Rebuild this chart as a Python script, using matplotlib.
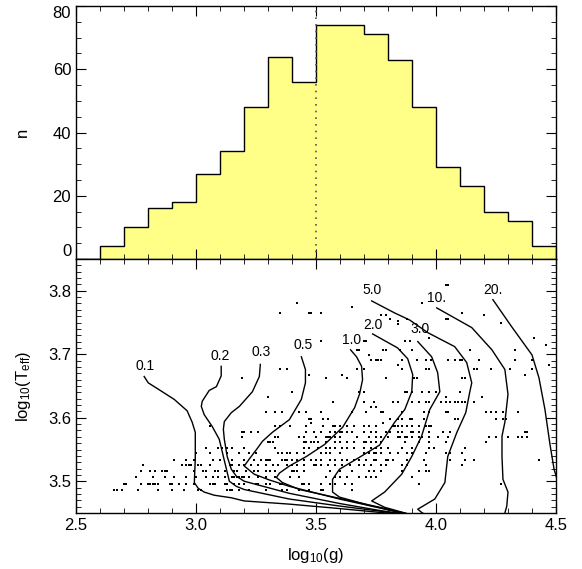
import matplotlib
matplotlib.use('Agg')
import matplotlib.pyplot as plt
import numpy as np

plt.rcParams['font.family'] = ['Liberation Sans', 'DejaVu Sans']
plt.rcParams['mathtext.default'] = 'regular'

# histogram of log g (bins of 0.1 dex)
bin_edges = [2.5, 2.6, 2.7, 2.8, 2.9, 3.0, 3.1, 3.2, 3.3, 3.4, 3.5,
             3.6, 3.7, 3.8, 3.9, 4.0, 4.1, 4.2, 4.3, 4.4, 4.5]
counts = [0, 4, 10, 16, 18, 27, 34, 48, 64, 56,
          74, 74, 71, 63, 48, 29, 23, 15, 12, 4]
median_logg = 3.5

# stars: log Teff rows and the log g values found on each row
star_logt = [3.487, 3.496, 3.506, 3.516, 3.525, 3.534, 3.544, 3.552, 3.562,
             3.570, 3.577, 3.587, 3.592, 3.598, 3.609, 3.617, 3.625, 3.633,
             3.640, 3.663, 3.668, 3.676, 3.683, 3.691, 3.699, 3.706, 3.714,
             3.721, 3.726, 3.747, 3.750, 3.752, 3.756, 3.762, 3.765, 3.774,
             3.781, 3.809]
star_logg = [
    [2.66, 2.67, 2.69, 2.76, 2.84, 2.90, 2.95, 3.01, 3.02, 3.13, 3.14, 3.15,
     3.18, 3.22, 3.29, 3.36, 3.38, 3.43, 3.47, 3.52, 3.53, 3.65],
    [2.70, 2.71, 2.77, 2.80, 2.81, 2.82, 2.83, 2.84, 2.89, 2.90, 2.93, 2.96,
     2.99, 3.06, 3.07, 3.08, 3.12, 3.13, 3.16, 3.18, 3.20, 3.25, 3.26, 3.29,
     3.31, 3.35, 3.36, 3.44, 3.45, 3.47, 3.52, 3.56, 3.58, 3.62, 3.65, 3.93,
     4.27],
    [2.75, 2.82, 2.87, 2.91, 2.96, 3.00, 3.04, 3.07, 3.09, 3.12, 3.15, 3.16,
     3.17, 3.18, 3.19, 3.20, 3.22, 3.26, 3.29, 3.33, 3.39, 3.43, 3.54, 3.58,
     3.60, 3.63, 3.68, 3.71, 3.73, 3.75, 3.90],
    [2.77, 2.81, 2.83, 2.86, 2.87, 2.88, 2.99, 3.03, 3.04, 3.08, 3.09, 3.12,
     3.16, 3.17, 3.21, 3.24, 3.26, 3.29, 3.31, 3.33, 3.40, 3.41, 3.42, 3.45,
     3.56, 3.60, 3.65, 3.72, 3.74, 3.77, 3.86, 3.93, 3.96, 3.97],
    [2.78, 2.94, 2.96, 2.97, 2.98, 3.01, 3.02, 3.06, 3.14, 3.15, 3.18, 3.20,
     3.23, 3.26, 3.29, 3.32, 3.34, 3.38, 3.40, 3.42, 3.45, 3.49, 3.50, 3.52,
     3.55, 3.58, 3.61, 3.64, 3.68, 3.70, 3.73, 3.77, 3.79, 3.86, 3.88, 3.96,
     4.11],
    [2.91, 2.96, 2.99, 3.07, 3.10, 3.15, 3.20, 3.24, 3.27, 3.29, 3.30, 3.31,
     3.36, 3.37, 3.38, 3.40, 3.42, 3.45, 3.48, 3.50, 3.52, 3.56, 3.58, 3.61,
     3.63, 3.66, 3.68, 3.71, 3.74, 3.75, 3.79, 3.80, 3.82, 3.88, 3.95, 4.06,
     4.12, 4.16, 4.43],
    [3.00, 3.06, 3.13, 3.18, 3.22, 3.25, 3.34, 3.36, 3.38, 3.39, 3.42, 3.45,
     3.52, 3.54, 3.56, 3.60, 3.70, 3.72, 3.74, 3.75, 3.77, 3.81, 3.84, 3.88,
     3.90, 3.96, 4.04, 4.06, 4.11],
    [3.04, 3.09, 3.11, 3.13, 3.15, 3.20, 3.33, 3.45, 3.47, 3.51, 3.54, 3.56,
     3.58, 3.61, 3.63, 3.66, 3.70, 3.73, 3.75, 3.77, 3.80, 3.86, 3.90, 3.97,
     3.99, 4.12],
    [3.30, 3.31, 3.32, 3.45, 3.46, 3.48, 3.49, 3.51, 3.54, 3.58, 3.60, 3.63,
     3.66, 3.70, 3.71, 3.73, 3.75, 3.77, 3.87, 3.93, 3.97, 4.04, 4.21],
    [3.19, 3.33, 3.34, 3.43, 3.45, 3.50, 3.54, 3.55, 3.56, 3.58, 3.60, 3.67,
     3.72, 3.75, 3.77, 3.80, 3.84, 3.85, 3.87, 3.88, 3.90, 3.93, 3.94, 3.97,
     4.01, 4.05, 4.22, 4.25, 4.30, 4.34, 4.36, 4.38],
    [3.19, 3.20, 3.23, 3.26, 3.46, 3.49, 3.52, 3.56, 3.58, 3.60, 3.61, 3.63,
     3.65, 3.70, 3.73, 3.75, 3.79, 3.81, 3.84, 3.86, 3.895, 3.905, 3.93, 3.97,
     4.03, 4.06, 4.37, 4.38],
    [3.06, 3.33, 3.35, 3.39, 3.46, 3.53, 3.57, 3.58, 3.60, 3.63, 3.66, 3.70,
     3.72, 3.75, 3.82, 3.83, 3.84, 3.86, 3.88, 3.90, 3.93, 3.96, 3.97, 3.98],
    [3.48, 3.78],
    [3.47, 3.48, 3.53, 3.55, 3.81, 3.84, 3.86, 3.89, 3.90, 3.95, 4.08, 4.09,
     4.25, 4.28, 4.29],
    [3.29, 3.33, 3.36, 3.43, 3.46, 3.52, 3.65, 3.71, 3.77, 3.78, 3.86, 3.95,
     3.97, 4.04, 4.05, 4.21, 4.23, 4.25, 4.28, 4.34],
    [3.73, 3.75],
    [3.57, 3.70, 3.74, 3.82, 3.84, 3.90, 3.93, 3.96, 3.97, 4.02, 4.04, 4.06,
     4.08, 4.09, 4.11, 4.12, 4.16],
    [3.30, 4.04, 4.19],
    [3.40, 3.68, 3.70, 3.87, 3.88, 3.90, 3.94, 3.97, 4.00, 4.10],
    [3.19, 3.54, 3.63, 3.79, 3.91, 3.92, 4.11, 4.12],
    [3.47, 3.61, 4.37],
    [3.35, 3.38, 3.67, 3.70, 3.86, 3.96, 3.97, 4.16, 4.17, 4.23, 4.31, 4.40],
    [3.84, 4.47],
    [3.73, 3.75, 3.76, 3.77, 3.86, 3.92, 3.96, 3.98, 4.05, 4.08, 4.10, 4.11,
     4.18, 4.33, 4.40],
    [3.72],
    [3.67, 3.68, 3.78, 3.79, 3.85, 3.90, 4.14, 4.33],
    [4.46],
    [3.52, 3.70, 3.71, 3.87, 3.89],
    [3.97, 4.41],
    [3.84],
    [4.27],
    [3.84],
    [3.81, 3.88, 4.04, 4.05],
    [3.77, 3.79, 4.20],
    [3.35, 3.47, 3.48, 3.52, 4.11],
    [3.65],
    [3.42, 3.94],
    [4.04, 4.05],
]

# isochrones (age in Gyr)
iso_names = ['0.1', '0.2', '0.3', '0.5', '1.0', '2.0', '3.0', '5.0', '10.', '20.']
iso_logg = [
    [2.784, 2.801, 2.847, 2.909, 2.963, 2.984, 2.997, 2.997, 2.993, 3.009,
     3.034, 3.076, 3.147, 3.201, 3.389, 3.598, 3.765, 3.890],
    [3.105, 3.105, 3.085, 3.055, 3.026, 3.022, 3.034, 3.068, 3.097, 3.114,
     3.130, 3.139, 3.168, 3.201, 3.389, 3.598, 3.765, 3.890],
    [3.268, 3.264, 3.235, 3.181, 3.147, 3.118, 3.114, 3.118, 3.130, 3.147,
     3.168, 3.201, 3.389, 3.598, 3.765, 3.890],
    [3.439, 3.456, 3.456, 3.439, 3.389, 3.318, 3.277, 3.252, 3.222, 3.201,
     3.243, 3.306, 3.389, 3.598, 3.765, 3.890],
    [3.644, 3.669, 3.690, 3.694, 3.682, 3.661, 3.611, 3.536, 3.460, 3.389,
     3.348, 3.335, 3.360, 3.431, 3.598, 3.765, 3.890],
    [3.736, 3.840, 3.882, 3.903, 3.899, 3.870, 3.828, 3.765, 3.669, 3.598,
     3.569, 3.569, 3.598, 3.723, 3.870, 3.932],
    [3.924, 3.982, 4.007, 4.016, 3.974, 3.940, 3.899, 3.857, 3.786, 3.732,
     3.786, 3.870, 3.932],
    [3.732, 3.828, 3.890, 3.966, 4.078, 4.128, 4.149, 4.141, 4.124, 4.087,
     4.049, 4.037, 3.995, 3.924, 3.940, 3.974],
    [4.003, 4.149, 4.233, 4.287, 4.300, 4.287, 4.275, 4.275, 4.279, 4.300,
     4.295, 4.287, 4.283],
    [4.237, 4.316, 4.400, 4.429, 4.454, 4.475, 4.492, 4.517],
]
iso_logt = [
    [3.665, 3.655, 3.644, 3.629, 3.611, 3.593, 3.577, 3.535, 3.498, 3.489,
     3.483, 3.478, 3.474, 3.469, 3.464, 3.457, 3.451, 3.447],
    [3.681, 3.666, 3.649, 3.643, 3.626, 3.618, 3.605, 3.586, 3.566, 3.539,
     3.514, 3.500, 3.492, 3.487, 3.472, 3.461, 3.453, 3.447],
    [3.684, 3.665, 3.641, 3.618, 3.608, 3.594, 3.582, 3.566, 3.539, 3.519,
     3.508, 3.500, 3.481, 3.465, 3.454, 3.447],
    [3.696, 3.676, 3.655, 3.629, 3.597, 3.577, 3.563, 3.550, 3.535, 3.524,
     3.511, 3.502, 3.492, 3.472, 3.458, 3.447],
    [3.707, 3.696, 3.681, 3.660, 3.638, 3.616, 3.585, 3.558, 3.539, 3.524,
     3.513, 3.506, 3.498, 3.487, 3.473, 3.459, 3.447],
    [3.732, 3.710, 3.693, 3.668, 3.641, 3.613, 3.593, 3.557, 3.535, 3.519,
     3.503, 3.483, 3.475, 3.462, 3.450, 3.443],
    [3.720, 3.696, 3.671, 3.641, 3.613, 3.571, 3.539, 3.511, 3.483, 3.469,
     3.459, 3.450, 3.443],
    [3.784, 3.765, 3.754, 3.734, 3.712, 3.687, 3.655, 3.641, 3.608, 3.577,
     3.539, 3.498, 3.472, 3.456, 3.451, 3.443],
    [3.773, 3.742, 3.707, 3.676, 3.637, 3.593, 3.571, 3.539, 3.503, 3.483,
     3.461, 3.450, 3.443],
    [3.786, 3.743, 3.699, 3.663, 3.613, 3.558, 3.519, 3.487],
]
iso_label_x = [2.788, 3.101, 3.272, 3.448, 3.648, 3.736, 3.932, 3.732, 4.003, 4.237]
iso_label_y = [3.682, 3.698, 3.704, 3.714, 3.723, 3.746, 3.739, 3.801, 3.789, 3.801]

fig = plt.figure(figsize=(5.82, 5.69), dpi=100)
ax1 = fig.add_axes([0.1306, 0.5448, 0.8247, 0.4446])
ax2 = fig.add_axes([0.1306, 0.0984, 0.8247, 0.4464])

# top: histogram
ax1.stairs(counts, bin_edges, fill=True, color='#ffff88')
ax1.stairs(counts, bin_edges, color='black', linewidth=1.0)
ax1.axvline(median_logg, color='#555555', linestyle=(0, (1, 3)), linewidth=1.2)
ax1.set_xlim(2.5, 4.5)
ax1.set_ylim(0, 80)
ax1.set_yticks([0, 20, 40, 60, 80])
ax1.set_yticks(np.arange(0, 81, 5), minor=True)
ax1.set_xticks([2.5, 3.0, 3.5, 4.0, 4.5])
ax1.set_xticks(np.arange(2.5, 4.51, 0.1), minor=True)
ax1.tick_params(labelbottom=False)
ax1.set_ylabel('n', fontsize=12)
ax1.yaxis.set_label_coords(-0.096, 0.5)

# bottom: stars and isochrones
for g, t in zip(star_logg, star_logt):
    ax2.scatter(g, [t] * len(g), s=3, marker='s', color='black', linewidths=0)
for name, g, t, lx, ly in zip(iso_names, iso_logg, iso_logt, iso_label_x, iso_label_y):
    ax2.plot(g, t, color='black', linewidth=1.0)
    ax2.text(lx, ly, name, fontsize=10, ha='center', va='center')
ax2.set_xlim(2.5, 4.5)
ax2.set_ylim(3.45, 3.85)
ax2.set_xticks([2.5, 3.0, 3.5, 4.0, 4.5])
ax2.set_xticks(np.arange(2.5, 4.51, 0.1), minor=True)
ax2.set_yticks([3.5, 3.6, 3.7, 3.8])
ax2.set_yticks(np.arange(3.45, 3.851, 0.01), minor=True)
ax2.set_xlabel('log$_{10}$(g)', fontsize=12)
ax2.set_ylabel('log$_{10}$(T$_{eff}$)', fontsize=12)
ax2.xaxis.set_label_coords(0.5, -0.13)
ax2.yaxis.set_label_coords(-0.09, 0.5)

for ax in (ax1, ax2):
    ax.tick_params(which='both', direction='in', top=True, right=True, labelsize=12)
    ax.tick_params(which='major', length=7)
    ax.tick_params(which='minor', length=3.5)
    for s in ax.spines.values():
        s.set_linewidth(1.0)

# keep the end labels of the top panel inside its frame
ylabels = ax1.get_yticklabels()
ylabels[0].set_va('bottom')
ylabels[-1].set_va('top')

fig.savefig('out.png', dpi=100)
